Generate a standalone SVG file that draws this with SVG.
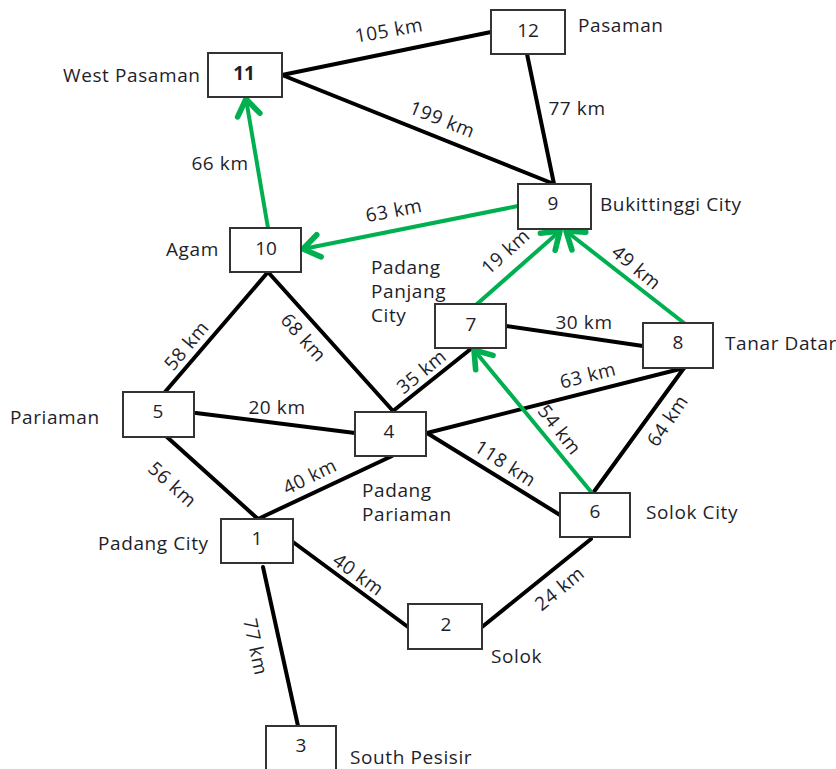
<svg xmlns="http://www.w3.org/2000/svg" width="836" height="769" viewBox="0 0 836 769">
<style>
.bg{fill:#ffffff}
.box{fill:#ffffff;stroke:#333333;stroke-width:2}
.num{font-family:"Open Sans","Liberation Sans",sans-serif;font-size:19px;fill:#1e1e2a;text-anchor:middle}
.bold{font-weight:bold}
.place{font-family:"Open Sans","Liberation Sans",sans-serif;font-size:19px;fill:#1e1e2a;letter-spacing:0.6px}
.dist{font-family:"Open Sans","Liberation Sans",sans-serif;font-size:19px;fill:#1e1e2a;text-anchor:middle;letter-spacing:0.6px}
.edge{stroke:#000000;stroke-width:4;fill:none;stroke-linecap:round}
.path{stroke:#00b050;stroke-width:4;fill:none;stroke-linecap:round}
</style>
<defs>
<marker id="arr" markerUnits="userSpaceOnUse" markerWidth="30" markerHeight="30" refX="0" refY="0" viewBox="-16 -12 20 24" orient="auto" overflow="visible">
<path d="M-13,-9 L0,0 L-13,9" fill="none" stroke="#00b050" stroke-width="4.5" stroke-linecap="round" stroke-linejoin="round"/>
</marker>
</defs>
<rect class="bg" x="0" y="0" width="836" height="769"/>
<g id="connectors">
<line class="edge" x1="282" y1="75" x2="491" y2="32"/>
<line class="edge" x1="282" y1="75" x2="554" y2="184"/>
<line class="edge" x1="527" y1="54" x2="554" y2="184"/>
<line class="edge" x1="268" y1="272" x2="165" y2="392"/>
<line class="edge" x1="268" y1="272" x2="393" y2="411"/>
<line class="edge" x1="196" y1="413" x2="355" y2="433"/>
<line class="edge" x1="167" y1="437" x2="258" y2="519"/>
<line class="edge" x1="392" y1="456" x2="258" y2="519"/>
<line class="edge" x1="393" y1="411" x2="472" y2="348"/>
<line class="edge" x1="506" y1="326" x2="643" y2="346"/>
<line class="edge" x1="427" y1="433" x2="684" y2="368"/>
<line class="edge" x1="427" y1="433" x2="560" y2="515"/>
<line class="edge" x1="593" y1="493" x2="684" y2="368"/>
<line class="edge" x1="293" y1="542" x2="408" y2="627"/>
<line class="edge" x1="482" y1="627" x2="591" y2="539"/>
<line class="edge" x1="263" y1="567" x2="298" y2="726"/>
<line class="path" x1="518" y1="206" x2="303" y2="249" marker-end="url(#arr)"/>
<line class="path" x1="268" y1="228" x2="246" y2="99" marker-end="url(#arr)"/>
<line class="path" x1="477" y1="304" x2="560" y2="231" marker-end="url(#arr)"/>
<line class="path" x1="684" y1="323" x2="566" y2="231" marker-end="url(#arr)"/>
<line class="path" x1="592" y1="493" x2="474" y2="350" marker-end="url(#arr)"/>
<text class="dist" transform="translate(389,31) rotate(-10)" y="6">105 km</text>
<text class="dist" transform="translate(442,120) rotate(22)" y="6">199 km</text>
<text class="dist" x="577" y="115">77 km</text>
<text class="dist" x="220" y="170">66 km</text>
<text class="dist" transform="translate(394,211) rotate(-11)" y="6">63 km</text>
<text class="dist" transform="translate(506,252) rotate(-42)" y="6">19 km</text>
<text class="dist" transform="translate(636,268) rotate(40)" y="6">49 km</text>
<text class="dist" transform="translate(187,346) rotate(-50)" y="6">58 km</text>
<text class="dist" transform="translate(303,338) rotate(48)" y="6">68 km</text>
<text class="dist" x="277" y="414">20 km</text>
<text class="dist" transform="translate(172,485) rotate(42)" y="6">56 km</text>
<text class="dist" transform="translate(310,477) rotate(-26)" y="6">40 km</text>
<text class="dist" transform="translate(422,372) rotate(-39)" y="6">35 km</text>
<text class="dist" x="584" y="329">30 km</text>
<text class="dist" transform="translate(588,376) rotate(-14)" y="6">63 km</text>
<text class="dist" transform="translate(559,430) rotate(52)" y="6">54 km</text>
<text class="dist" transform="translate(668,421) rotate(-56)" y="6">64 km</text>
<text class="dist" transform="translate(505,464) rotate(33)" y="6">118 km</text>
<text class="dist" transform="translate(358,575) rotate(36)" y="6">40 km</text>
<text class="dist" transform="translate(560,589) rotate(-39)" y="6">24 km</text>
<text class="dist" transform="translate(255,647) rotate(78)" y="6">77 km</text>
</g>
<g id="node11"><rect class="box" x="208" y="53" width="74" height="44"/><text class="num bold" x="244" y="80">11</text><text class="place" x="63" y="82">West Pasaman</text></g>
<g id="node12"><rect class="box" x="491" y="10" width="74" height="44"/><text class="num" x="528" y="37">12</text><text class="place" x="578" y="32">Pasaman</text></g>
<g id="node9"><rect class="box" x="518" y="184" width="73" height="45"/><text class="num" x="553" y="210">9</text><text class="place" x="600" y="211">Bukittinggi City</text></g>
<g id="node10"><rect class="box" x="230" y="228" width="71" height="44"/><text class="num" x="266" y="255">10</text><text class="place" x="166" y="256">Agam</text></g>
<g id="node7"><rect class="box" x="435" y="304" width="71" height="44"/><text class="num" x="471" y="331">7</text><text class="place" x="371" y="274">Padang</text><text class="place" x="371" y="298">Panjang</text><text class="place" x="371" y="322">City</text></g>
<g id="node8"><rect class="box" x="643" y="323" width="70" height="45"/><text class="num" x="678" y="349">8</text><text class="place" x="725" y="350">Tanar Datar</text></g>
<g id="node5"><rect class="box" x="123" y="392" width="71" height="45"/><text class="num" x="158" y="418">5</text><text class="place" x="10" y="424">Pariaman</text></g>
<g id="node4"><rect class="box" x="355" y="412" width="71" height="44"/><text class="num" x="389" y="438">4</text><text class="place" x="362" y="497">Padang</text><text class="place" x="362" y="521">Pariaman</text></g>
<g id="node6"><rect class="box" x="560" y="493" width="70" height="44"/><text class="num" x="595" y="518">6</text><text class="place" x="646" y="519">Solok City</text></g>
<g id="node1"><rect class="box" x="221" y="519" width="72" height="44"/><text class="num" x="257" y="545">1</text><text class="place" x="98" y="550">Padang City</text></g>
<g id="node2"><rect class="box" x="408" y="604" width="74" height="45"/><text class="num" x="446" y="631">2</text><text class="place" x="491" y="663">Solok</text></g>
<g id="node3"><rect class="box" x="266" y="726" width="70" height="50"/><text class="num" x="301" y="752">3</text><text class="place" x="350" y="764">South Pesisir</text></g>
</svg>
